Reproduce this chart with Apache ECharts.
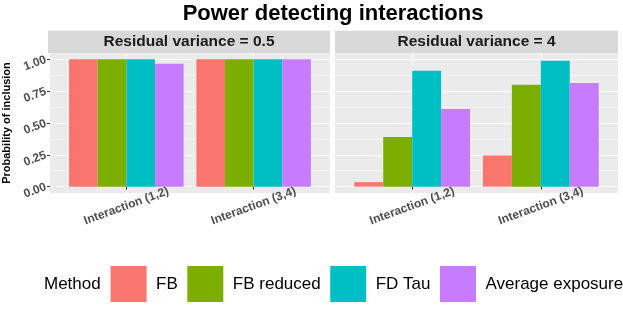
<!DOCTYPE html>
<html><head><meta charset="utf-8">
<script src="https://cdn.jsdelivr.net/npm/echarts@6/dist/echarts.min.js"></script>
<style>html,body{margin:0;padding:0;background:#fff}#c{width:623px;height:312px}</style>
</head><body><div id="c"></div>
<script>
const categories = ['Interaction (1,2)', 'Interaction (3,4)'];
const methods = ['FB', 'FB reduced', 'FD Tau', 'Average exposure'];
const colors = ['#F8766D', '#7CAE00', '#00BFC4', '#C77CFF'];
const panelTitles = ['Residual variance = 0.5', 'Residual variance = 4'];
const yTicks = [0, 0.25, 0.5, 0.75, 1];
const yMinor = [0.125, 0.375, 0.625, 0.875];
const xTicks = [1, 2];
// values per method: [Interaction (1,2), Interaction (3,4)]
const fb_05 = [1.00, 1.00];
const fbReduced_05 = [1.00, 1.00];
const fdTau_05 = [1.00, 1.00];
const avgExp_05 = [0.965, 1.00];
const fb_4 = [0.035, 0.245];
const fbReduced_4 = [0.39, 0.80];
const fdTau_4 = [0.91, 0.99];
const avgExp_4 = [0.61, 0.815];
const panelValues = [[fb_05, fbReduced_05, fdTau_05, avgExp_05], [fb_4, fbReduced_4, fdTau_4, avgExp_4]];

const FONT = "'Liberation Sans', Arial, Helvetica, sans-serif";
const panels = [{left: 48, width: 282}, {left: 335, width: 283}];
const TOP = 53, H = 140;

const chart = echarts.init(document.getElementById('c'), null, {renderer: 'canvas'});

const grids = panels.map(p => ({left: p.left, top: TOP, width: p.width, height: H, show: true,
  backgroundColor: '#EBEBEB', borderWidth: 0, containLabel: false}));

const xAxes = panels.map((p, i) => ({
  type: 'value', gridIndex: i, min: 0.4, max: 2.6,
  axisLine: {show: false},
  axisTick: {show: true, customValues: xTicks, length: 3, lineStyle: {color: '#333333', width: 1}},
  axisLabel: {customValues: xTicks, formatter: v => categories[Math.round(v) - 1] || '',
    rotate: 20, align: 'center', verticalAlign: 'middle', margin: 13,
    fontSize: 12, fontWeight: 'bold', color: '#4D4D4D', fontFamily: FONT},
  splitLine: {show: true, lineStyle: {color: '#FFFFFF', width: 1.1}}
}));

const yAxes = [];
panels.forEach((p, i) => {
  yAxes.push({
    type: 'value', gridIndex: i, min: -0.05, max: 1.05, position: 'left',
    axisLine: {show: false},
    axisTick: {show: i === 0, customValues: yTicks, length: 3, lineStyle: {color: '#333333'}},
    axisLabel: {show: i === 0, customValues: yTicks, formatter: v => v.toFixed(2), rotate: 20,
      margin: 4, fontSize: 12, fontWeight: 'bold', color: '#4D4D4D', fontFamily: FONT},
    splitLine: {show: true, lineStyle: {color: '#FFFFFF', width: 1.1}},
    name: i === 0 ? 'Probability of inclusion' : '',
    nameLocation: 'middle', nameGap: 38, nameRotate: 90,
    nameTextStyle: {fontSize: 11, fontWeight: 'bold', color: '#000', fontFamily: FONT}
  });
  yAxes.push({
    type: 'value', gridIndex: i, min: -0.05, max: 1.05, position: 'left',
    axisLine: {show: false},
    axisTick: {show: false, customValues: yMinor},
    axisLabel: {show: false, customValues: yMinor},
    splitLine: {show: true, lineStyle: {color: '#FFFFFF', width: 0.5}}
  });
});

const series = [];
panels.forEach((p, pi) => {
  methods.forEach((m, mi) => {
    series.push({
      type: 'bar', name: m, xAxisIndex: pi, yAxisIndex: pi * 2,
      data: categories.map((c, ci) => [ci + 1, panelValues[pi][mi][ci]]),
      itemStyle: {color: colors[mi]},
      barGap: 0, barCategoryGap: '10%',
      emphasis: {disabled: true}, silent: true
    });
  });
});

const graphics = [];
panels.forEach((p, i) => {
  graphics.push({type: 'rect', shape: {x: p.left, y: 30.7, width: p.width, height: 22.3},
    style: {fill: '#D9D9D9'}, silent: true});
  graphics.push({type: 'text', x: p.left + p.width / 2, y: 41.8,
    style: {text: panelTitles[i], fill: '#1A1A1A', font: 'bold 15.5px ' + FONT,
      textAlign: 'center', textVerticalAlign: 'middle'}});
});
graphics.push({type: 'text', x: 333, y: 14,
  style: {text: 'Power detecting interactions', fill: '#000', font: 'bold 22px ' + FONT,
    textAlign: 'center', textVerticalAlign: 'middle'}});
graphics.push({type: 'text', x: 44, y: 284,
  style: {text: 'Method', fill: '#000', font: '17px ' + FONT,
    textAlign: 'left', textVerticalAlign: 'middle'}});

chart.setOption({
  animation: false,
  backgroundColor: '#FFFFFF',
  grid: grids,
  xAxis: xAxes,
  yAxis: yAxes,
  series: series,
  legend: {
    data: methods, left: 110.6, top: 266, width: 560, orient: 'horizontal', padding: 0,
    itemWidth: 36, itemHeight: 36, itemGap: 9.5, icon: 'rect',
    textStyle: {fontSize: 17, color: '#000', fontFamily: FONT, padding: [0, 0, 0, 4.5]},
    selectedMode: false
  },
  graphic: graphics
});
</script>
</body></html>
